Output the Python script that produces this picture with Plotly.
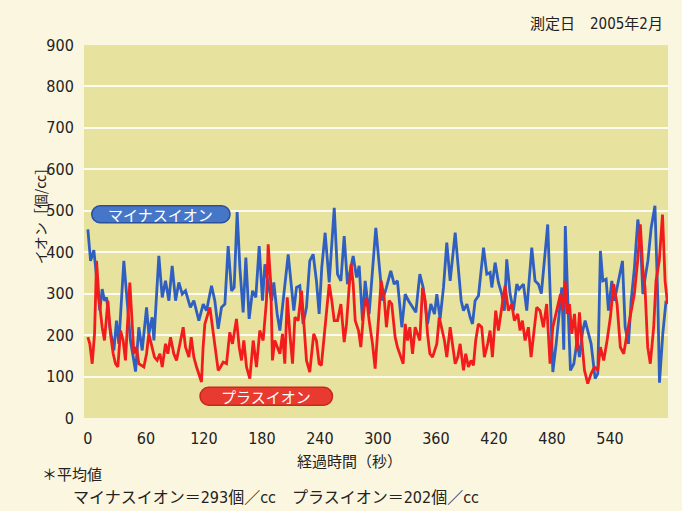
import plotly.graph_objects as go

# ---- data ----
minus_t = [0, 2.8, 6.2, 9.6, 12.4, 14.8, 17.2, 19.3, 22.7, 25.2, 26.9, 29.6, 32, 37.2, 40.7, 44, 46.9, 49.3,
           52.7, 56.2, 60.7, 63, 66.5, 68.3, 73.4, 76.9, 80.3, 83.8, 87.2, 90.7, 94.1, 97.6, 101, 106, 109.6,
           114.8, 119.3, 122.7, 127.9, 131.3, 134.8, 138.2, 141.7, 145.1, 148.6, 151.3, 154.4, 157.2, 160.6,
           163.4, 166.8, 170.3, 173.7, 177.2, 180.6, 183.1, 186.5, 190, 192.3, 195.8, 198.6, 202, 207.2, 210.6,
           213, 215.8, 219.2, 222.6, 226.1, 229.5, 233, 236.4, 239.2, 241.9, 245.4, 249.6, 254.8, 258.2, 261.7,
           265.1, 268.5, 274.4, 277.9, 280.6, 284, 286.8, 290.9, 297.8, 301.9, 304.7, 308.8, 313.3, 316.8, 320.2,
           324.7, 328.2, 331.6, 335.8, 339.2, 343.3, 346.8, 351.3, 354.7, 358.5, 360.9, 364.3, 367.8, 371.2,
           374.7, 379.9, 383.3, 386.1, 388.5, 392, 395.4, 397.8, 400.5, 404, 409.2, 412.6, 416, 417.8, 421.2,
           424.6, 428.1, 430.8, 433.2, 436.7, 440.1, 443.6, 446, 450.5, 453.9, 459.1, 462.5, 466, 469, 475.6,
           478.4, 480.9, 484.3, 487.8, 490.2, 492.2, 493.8, 496.4, 499.1, 502.6, 506, 508.4, 511.8, 514.3,
           520.5, 524.6, 527.4, 530.1, 532.6, 536, 538.4, 541.9, 544.6, 552.9, 555.7, 559.1, 561.9, 565.3,
           568.8, 571.6, 574, 576.4, 579.2, 582.6, 586.5, 589.5, 591.2, 594.6, 598]
minus_v = [455, 379, 405, 323, 259, 311, 283, 291, 219, 187, 163, 235, 179, 379, 283, 187, 147, 112,
           219, 163, 267, 203, 243, 187, 391, 291, 331, 283, 367, 283, 327, 299, 307, 267, 283,
           235, 275, 259, 319, 283, 215, 267, 275, 415, 307, 315, 497, 363, 255,
           387, 239, 307, 291, 415, 283, 371, 323, 283, 327, 251, 211, 283, 395, 315,
           259, 315, 319, 227, 267, 379, 395, 331, 251, 363, 447, 327, 507, 347, 331,
           439, 323, 391, 339, 367, 235, 331, 251, 459, 363, 283, 315, 355, 323, 331,
           219, 299, 283, 267, 255, 347, 315, 227, 275, 251, 299, 239, 315, 423,
           331, 447, 363, 283, 259, 275, 243, 227, 283, 295, 411, 347, 351, 315, 375,
           327, 299, 259, 383, 299, 259, 323, 311, 323, 259, 411, 331, 323, 300, 467,
           283, 111, 179, 251, 315, 165, 463, 283, 115, 131, 187, 147, 211, 235,
           179, 95, 107, 403, 331, 335, 259, 331, 283, 379, 219, 179, 283, 363,
           479, 427, 299, 339, 379, 459, 512, 283, 85, 203, 283]

plus_t = [0, 2, 4.5, 6.9, 9, 11.4, 14.8, 17.2, 20.7, 23.4, 26.2, 28.6, 31, 33.8, 36.5, 38.9, 43.4, 45.9,
          47.6, 50.3, 52.7, 57.9, 60.7, 63, 68.9, 71.7, 74.5, 76.9, 80.3, 82.7, 85.5, 88.9, 91.7, 95.2, 98.6,
          101, 104.5, 106.9, 109.6, 112.4, 115.2, 117.5, 119.2, 121, 126.2, 128.9, 132.3, 134.8, 137.2, 140,
          143.4, 146.8, 149.6, 153.7, 156.5, 158.9, 161.3, 164.1, 167.5, 171, 174.4, 177.8, 181.3, 184.7,
          186.5, 189.2, 190.9, 193.3, 198.6, 201.3, 203.7, 206.2, 208.9, 211.7, 214.1, 217.5, 221, 223.4,
          226.1, 229.5, 233.6, 236.4, 239.2, 241.5, 243.4, 246.8, 249.6, 252.3, 254.8, 258.2, 261.7, 265.1,
          267.5, 270.2, 272.3, 274.4, 276.5, 279.9, 282.3, 285.7, 288.2, 290.9, 294.4, 297.1, 300.6, 303.3,
          306.4, 308.8, 311.6, 314.3, 317.8, 320.2, 326.1, 328.2, 330.6, 333, 335.8, 338.5, 343.3, 346.1,
          348.9, 351.3, 353.7, 356.5, 360.9, 363.4, 368.8, 371.2, 374.7, 377.1, 379.9, 382.6, 385, 388.5,
          390.8, 393.6, 396.3, 398.8, 401.1, 403.9, 407.3, 410.1, 413.5, 416, 418.4, 421.8, 424.6, 428.1,
          431.5, 434.9, 438.4, 441.1, 444.6, 447, 449.4, 452.2, 455.6, 458.4, 460.8, 464.2, 467.7, 471.1,
          474.5, 478, 480.9, 483.3, 488.8, 491.2, 493.6, 495.7, 498.1, 500.5, 503.3, 506, 508.4, 510.8,
          513.6, 517, 520.5, 523.9, 527.4, 530.1, 533.5, 537, 540.4, 543.8, 547.3, 550.7, 554.2, 557.6,
          561.7, 565.2, 568.6, 571.4, 573.8, 576.2, 579, 581.7, 585.2, 587.6, 591, 594.3, 597, 599.5]
plus_v = [195, 179, 131, 203, 379, 291, 219, 187, 283, 203, 155, 131, 123, 211, 187, 139, 327, 219,
          155, 171, 131, 123, 155, 203, 147, 139, 155, 123, 179, 155, 195, 155, 139, 179, 219,
          171, 147, 195, 147, 123, 100, 87, 171, 227, 267, 219, 155, 115, 123, 135,
          131, 207, 179, 239, 171, 139, 187, 123, 95, 187, 123, 211, 187, 283,
          419, 323, 139, 187, 155, 203, 131, 291, 203, 131, 243, 235, 307, 227,
          139, 111, 203, 187, 131, 127, 171, 259, 323, 283, 235, 235, 275, 183,
          227, 315, 371, 323, 235, 211, 171, 267, 291, 235, 179, 119, 251, 331,
          291, 219, 283, 275, 195, 171, 131, 227, 187, 219, 155, 219, 187, 315,
          283, 203, 155, 147, 179, 243, 187, 147, 219, 179, 131, 147, 179, 115,
          155, 123, 139, 127, 187, 227, 219, 147, 179, 211, 147, 259, 211, 267,
          319, 259, 275, 235, 251, 211, 235, 187, 219, 147, 203, 267, 259, 219,
          275, 131, 219, 243, 299, 259, 331, 251, 275, 203, 251, 163, 255, 187,
          115, 83, 107, 123, 115, 171, 139, 187, 243, 323, 275, 171, 155, 203,
          251, 299, 379, 467, 363, 315, 171, 131, 219, 331, 380, 491, 331, 275]

y_ticks = [0, 100, 200, 300, 400, 500, 600, 700, 800, 900]
x_ticks = [0, 60, 120, 180, 240, 300, 360, 420, 480, 540]

title_text = "測定日　2005年2月"
y_title = "イオン［個/cc］"
x_title = "経過時間（秒）"
minus_label = "マイナスイオン"
plus_label = "プラスイオン"
note1 = "＊平均値"
note2 = "マイナスイオン＝293個／cc　プラスイオン＝202個／cc"

NUM_FONT = "DejaVu Sans Condensed, Liberation Sans Narrow, Liberation Sans, Noto Sans CJK JP, sans-serif"
JP_FONT = "Noto Sans CJK JP, sans-serif"

fig = go.Figure()
fig.add_trace(go.Scatter(x=minus_t, y=minus_v, mode="lines",
                         line=dict(color="#2f5fc0", width=2.8), name=minus_label, hoverinfo="skip"))
fig.add_trace(go.Scatter(x=plus_t, y=plus_v, mode="lines",
                         line=dict(color="#f31c1c", width=2.8), name=plus_label, hoverinfo="skip"))


def pill(x0, x1, y0, y1, rx, ry):
    k = 0.5523
    ym = (y0 + y1) / 2
    return (f"M {x0+rx},{y0} L {x1-rx},{y0} "
            f"C {x1-rx+k*rx},{y0} {x1},{ym-k*ry} {x1},{ym} "
            f"C {x1},{ym+k*ry} {x1-rx+k*rx},{y1} {x1-rx},{y1} "
            f"L {x0+rx},{y1} "
            f"C {x0+rx-k*rx},{y1} {x0},{ym+k*ry} {x0},{ym} "
            f"C {x0},{ym-k*ry} {x0+rx-k*rx},{y0} {x0+rx},{y0} Z")


fig.add_shape(type="path", xref="x", yref="y", path=pill(4, 147, 471, 512, 8.8, 20.5),
              fillcolor="#4676c8", line=dict(color="#2a4f9c", width=1.5))
fig.add_shape(type="path", xref="x", yref="y", path=pill(116, 253, 31, 74, 8.8, 21.5),
              fillcolor="#e83a2e", line=dict(color="#c42a22", width=1.5))

fig.add_annotation(x=75.5, y=491.5, xref="x", yref="y", text=minus_label, showarrow=False,
                   font=dict(family=JP_FONT, size=15, color="white"))
fig.add_annotation(x=184.5, y=52.5, xref="x", yref="y", text=plus_label, showarrow=False,
                   font=dict(family=JP_FONT, size=15, color="white"))

fig.add_annotation(x=0.995, y=1.055, xref="paper", yref="paper", xanchor="right", yanchor="middle",
                   text=title_text, showarrow=False, font=dict(family=NUM_FONT, size=15, color="#222"))
fig.add_annotation(x=-0.097, y=0.55, xref="paper", yref="paper", textangle=-90,
                   text=y_title, showarrow=False, font=dict(family=JP_FONT, size=14, color="#222"))
fig.add_annotation(x=0.455, y=-0.115, xref="paper", yref="paper", yanchor="middle",
                   text=x_title, showarrow=False, font=dict(family=JP_FONT, size=15, color="#222"))
fig.add_annotation(x=-0.075, y=-0.148, xref="paper", yref="paper", xanchor="left", yanchor="middle",
                   text=note1, showarrow=False, font=dict(family=JP_FONT, size=15, color="#222"))
fig.add_annotation(x=-0.022, y=-0.212, xref="paper", yref="paper", xanchor="left", yanchor="middle",
                   text=note2, showarrow=False, font=dict(family=NUM_FONT, size=16, color="#222"))

fig.update_layout(
    width=682, height=511,
    margin=dict(l=84, r=14, t=45, b=93),
    paper_bgcolor="#fbf6df",
    plot_bgcolor="#e7e29d",
    showlegend=False,
    xaxis=dict(range=[-4, 600], tickvals=x_ticks, showgrid=False, zeroline=False,
               ticks="outside", ticklen=6, tickcolor="rgba(0,0,0,0)", automargin=False,
               tickfont=dict(family=NUM_FONT, size=16, color="#222"), showline=False, fixedrange=True),
    yaxis=dict(range=[0, 900], tickvals=y_ticks, showgrid=True, gridcolor="rgba(255,255,255,0.85)",
               gridwidth=1.5, zeroline=False, ticks="outside", ticklen=6, tickcolor="rgba(0,0,0,0)",
               automargin=False,
               tickfont=dict(family=NUM_FONT, size=16, color="#222"), showline=False, fixedrange=True),
)

fig.write_html("out.html", config={"displayModeBar": False},
               post_script="document.body.style.margin='0';")
